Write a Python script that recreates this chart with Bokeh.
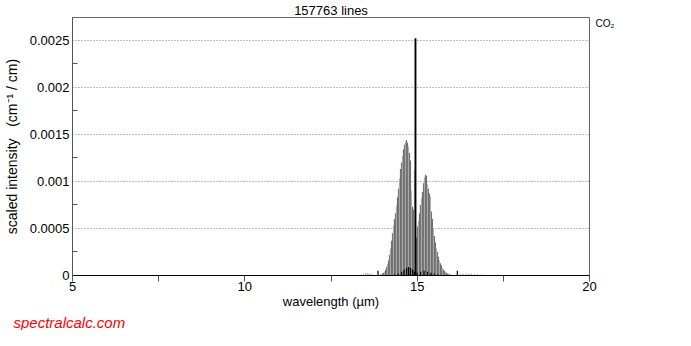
from bokeh.plotting import figure
from bokeh.models import FixedTicker, Range1d, Title, LinearAxis
from bokeh.embed import file_html
from bokeh.resources import INLINE

# ---- data ----
title_text = "157763 lines"
x_title = "wavelength (\u00b5m)"
y_title = "scaled intensity\u00a0\u00a0\u00a0(cm\u207b\u00b9 / cm)"
species = "CO\u2082"
site = "spectralcalc.com"
x_ticks = [5, 10, 15, 20]
x_labels = ["5", "10", "15", "20"]
x_minor = [7.5, 12.5, 17.5]
y_ticks = [0, 0.0005, 0.001, 0.0015, 0.002, 0.0025]
y_labels = ["0", "0.0005", "0.001", "0.0015", "0.002", "0.0025"]
y_minor = [0.00025, 0.00075, 0.00125, 0.00175, 0.00225]
species_anchor = 0.00268

# R branch (short-wavelength side) line groups, micrometres
r_wl = [13.936, 13.965, 13.994, 14.023, 14.052, 14.081, 14.110, 14.139, 14.168, 14.197,
        14.226, 14.255, 14.284, 14.313, 14.342, 14.371, 14.400, 14.429, 14.458, 14.487,
        14.516, 14.545, 14.574, 14.603, 14.632, 14.661, 14.690, 14.719, 14.748, 14.777,
        14.806, 14.835, 14.864, 14.893, 14.922]
r_int = [0.00001, 0.00001, 0.00002, 0.00003, 0.00004, 0.00006, 0.00009, 0.00012, 0.00016, 0.00022,
         0.00029, 0.00037, 0.00045, 0.00053, 0.00060, 0.00066, 0.00074, 0.00083, 0.00092, 0.00103,
         0.00113, 0.00120, 0.00127, 0.00134, 0.00139, 0.00142, 0.00144, 0.00141, 0.00137, 0.00130,
         0.00122, 0.00090, 0.00073, 0.00070, 0.00112]
# P branch (long-wavelength side)
p_wl = [14.980, 15.009, 15.038, 15.067, 15.096, 15.125, 15.154, 15.183, 15.212, 15.241,
        15.270, 15.299, 15.328, 15.357, 15.386, 15.415, 15.444, 15.473, 15.502, 15.531,
        15.560, 15.589, 15.618, 15.647, 15.676, 15.705, 15.734, 15.763, 15.792, 15.821,
        15.850, 15.879, 15.908, 15.937, 15.966]
p_int = [0.00040, 0.00052, 0.00058, 0.00066, 0.00075, 0.00082, 0.00089, 0.00098, 0.00104, 0.00107,
         0.00106, 0.00097, 0.00092, 0.00087, 0.00084, 0.00068, 0.00060, 0.00050, 0.00042, 0.00035,
         0.00029, 0.00025, 0.00020, 0.00016, 0.00013, 0.00011, 0.00008, 0.00006, 0.00005, 0.00004,
         0.00003, 0.00002, 0.00002, 0.00001, 0.00001]
# weak gray lines
weak_wl = [13.40, 13.45, 13.50, 13.55, 13.60, 13.65, 13.70,
           16.25, 16.33, 16.42, 16.50, 16.58, 16.67, 16.75, 16.83, 16.92]
weak_int = [0.00001, 0.00002, 0.00002, 0.00003, 0.00002, 0.00002, 0.00001,
            0.00002, 0.00002, 0.00002, 0.00002, 0.00002, 0.000015, 0.000015, 0.00001, 0.00001]
# black lines (Q branch and weak bands)
q_wl = [14.951]
q_int = [0.00252]
blk_wl = [13.864, 14.35, 14.45, 14.55, 14.62, 14.69, 14.75, 14.81, 14.87, 14.92,
          15.00, 15.10, 15.20, 15.30, 15.40, 15.50, 15.60, 16.165]
blk_int = [0.00005, 0.00001, 0.00002, 0.00004, 0.00006, 0.00008, 0.00009, 0.00008, 0.00006, 0.00004,
           0.00003, 0.00004, 0.00005, 0.00004, 0.00003, 0.00002, 0.00001, 0.00005]

FONT = "Liberation Sans"
W, H = 675, 330

p = figure(width=W, height=H, output_backend="svg", toolbar_location=None,
           x_range=Range1d(5, 20), y_range=Range1d(0, 0.00274),
           min_border_left=72, min_border_right=W - 72 - 517,
           min_border_top=15, min_border_bottom=50)
p.background_fill_color = "white"
p.border_fill_color = "white"
p.outline_line_color = "#666666"

# title above, offset to the right like the reference
p.title.text = title_text
p.title.align = "center"
p.title.offset = 22
p.title.standoff = 0
p.title.text_font = FONT
p.title.text_font_size = "13px"
p.title.text_font_style = "normal"
p.title.text_color = "black"

# band lines, alternating shades
band_wl = r_wl + p_wl
band_int = r_int + p_int
shades = ["#707070" if i % 3 != 1 else "#b0b0b0" for i in range(len(band_wl))]
p.vbar(x=band_wl, top=band_int, width=0.034, bottom=0, fill_color=shades, line_color=None)
p.vbar(x=weak_wl, top=weak_int, width=0.025, bottom=0, fill_color="#9a9a9a", line_color=None)
p.vbar(x=blk_wl, top=blk_int, width=0.035, bottom=0, fill_color="black", line_color=None)
p.vbar(x=q_wl, top=q_int, width=0.055, bottom=0, fill_color="black", line_color=None)

# x axis
xa = p.xaxis[0]
xa.ticker = FixedTicker(ticks=x_ticks, minor_ticks=x_minor)
xa.major_label_overrides = {t: s for t, s in zip(x_ticks, x_labels)}
xa.major_tick_in = 0
xa.major_tick_out = 6
xa.minor_tick_in = 0
xa.minor_tick_out = 6
xa.major_label_standoff = 0
xa.axis_line_color = "black"
xa.axis_label = x_title
xa.axis_label_standoff = 0
xa.axis_label_text_font = FONT
xa.axis_label_text_font_size = "13px"
xa.axis_label_text_font_style = "normal"

# y axis
ya = p.yaxis[0]
ya.ticker = FixedTicker(ticks=y_ticks, minor_ticks=y_minor)
ya.major_label_overrides = {t: s for t, s in zip(y_ticks, y_labels)}
ya.major_tick_in = 0
ya.major_tick_out = 0
ya.minor_tick_in = 5
ya.minor_tick_out = 0
ya.major_label_standoff = 3
ya.axis_line_color = "#555555"
ya.axis_label = y_title
ya.axis_label_standoff = 7
ya.axis_label_text_font = FONT
ya.axis_label_text_font_size = "14px"
ya.axis_label_text_font_style = "normal"

for ax in (xa, ya):
    ax.major_label_text_font = FONT
    ax.major_label_text_font_size = "13px"
    ax.major_label_text_color = "black"
    ax.major_tick_line_color = "#555555"
    ax.minor_tick_line_color = "#555555"
    ax.axis_label_text_color = "black"

# species tag at the top right, carried by a bare right-hand axis
ra = LinearAxis(ticker=FixedTicker(ticks=[species_anchor], minor_ticks=[]),
                major_label_overrides={species_anchor: species},
                axis_line_color=None, major_tick_line_color=None, minor_tick_line_color=None,
                major_tick_in=0, major_tick_out=0, major_label_standoff=6,
                major_label_text_font=FONT, major_label_text_font_size="10px",
                major_label_text_color="black")
p.add_layout(ra, "right")

# site tag below the axis title
p.add_layout(Title(text=site, align="left", offset=-59, standoff=0, text_font=FONT,
                   text_font_size="15px", text_font_style="italic", text_color="red"), "below")

p.xgrid.visible = False
p.ygrid.ticker = FixedTicker(ticks=y_ticks[1:])
p.ygrid.grid_line_color = "#808080"
p.ygrid.grid_line_dash = "1 2"

open("out.html", "w").write(file_html(p, INLINE))
